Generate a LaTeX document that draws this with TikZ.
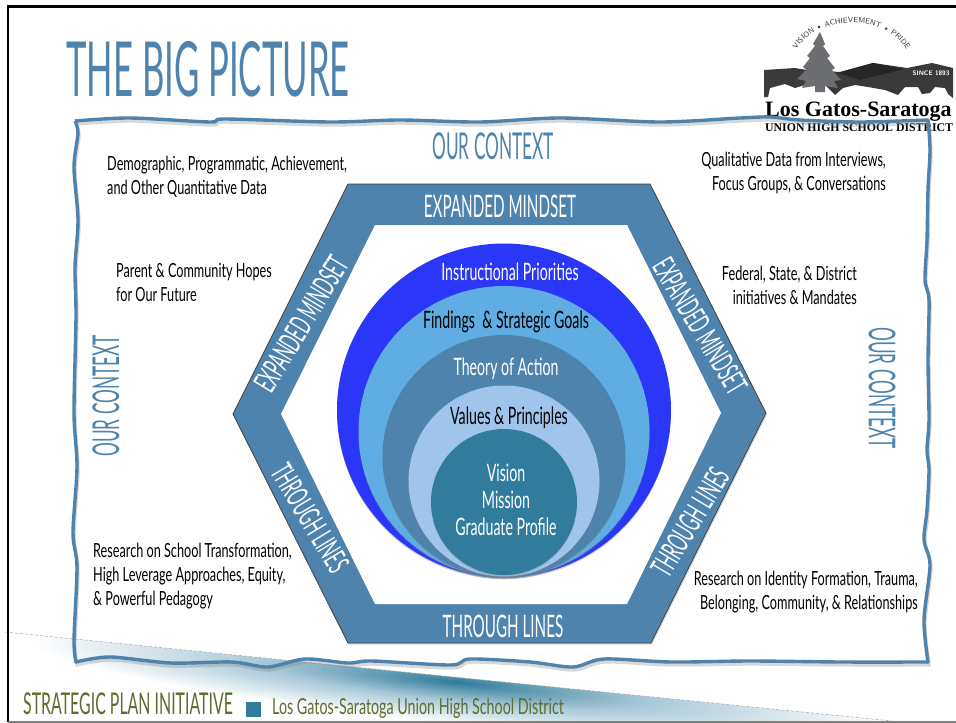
\documentclass[tikz,border=0pt]{standalone}
\usepackage{fontspec}
\usetikzlibrary{shadows,decorations.text}
\newfontfamily\titlefont[FakeStretch=0.456]{Lato}
\newfontfamily\contextfont[FakeStretch=0.465]{Lato}
\newfontfamily\bandfont[FakeStretch=0.49]{Lato}
\newfontfamily\bodyfont[FakeStretch=0.65]{Lato}
\newfontfamily\ringfont[FakeStretch=0.59]{Lato}
\newfontfamily\footfont[FakeStretch=0.53]{Lato}
\newfontfamily\logofont{Liberation Serif}
\definecolor{steelband}{HTML}{4E83AD}
\definecolor{ringblue}{HTML}{2A36F8}
\definecolor{ringsky}{HTML}{5FADE3}
\definecolor{ringpale}{HTML}{A0C5EC}
\definecolor{ringteal}{HTML}{317C9C}
\definecolor{footolive}{HTML}{5F6B2F}
\definecolor{logodark}{HTML}{3A3A3C}
\definecolor{logotree}{HTML}{6D6E71}
\definecolor{logosky}{HTML}{7CCBF0}
\definecolor{glowmid}{HTML}{A6C8D6}
\pgfdeclareradialshading{wedgeglow}{\pgfpoint{0bp}{0bp}}{color(0bp)=(ringteal); color(11bp)=(glowmid); color(25bp)=(white); color(50bp)=(white)}
\newcommand{\framecurve}{
  plot[smooth] coordinates {(75,121) (130,118) (210,122) (225,119) (330,122) (400,120) (480,122) (560,118) (660,122) (740,118) (770,117) (800,120) (860,122) (928,120)}
  -- plot[smooth] coordinates {(928,120) (930,150) (928,190) (927,240) (925,280) (929,300) (928,360) (929,420) (927,450) (929,470) (927,510) (924,540) (930,565) (924,620) (928,662)}
  -- plot[smooth] coordinates {(928,662) (841,662) (750,661) (671,662) (604,659) (573,667) (530,662) (470,659) (451,665) (372,661) (348,663) (305,659) (268,667) (232,662) (171,663) (110,657) (76,662)}
  -- plot[smooth] coordinates {(76,662) (74,640) (77,567) (73,533) (77,467) (74,413) (76,317) (75,267) (78,220) (74,167) (78,133) (75,121)}
}
\begin{document}
\begin{tikzpicture}[x=1pt,y=-1pt]
        \tikzset{title/.style={text=steelband,font=\titlefont\fontsize{76}{76}\selectfont,inner sep=0pt}}
        \tikzset{context/.style={text=steelband,font=\contextfont\fontsize{37}{37}\selectfont,inner sep=0pt}}
        \tikzset{band/.style={text=white,font=\bandfont\fontsize{31}{31}\selectfont,inner sep=0pt}}
        \tikzset{body/.style={text=black,font=\bodyfont\fontsize{19.5}{24}\selectfont,inner sep=0pt}}
        \tikzset{ringtext/.style={font=\ringfont\fontsize{24}{27}\selectfont,inner sep=0pt,align=center}}
        \tikzset{disc/.style={circle,inner sep=0pt,outer sep=0pt,drop shadow={shadow xshift=0pt,shadow yshift=-1.5pt,opacity=.35}}}
        \tikzset{slideedge/.style={line width=2.6pt}}

        \useasboundingbox (0,0) rectangle (956,723);
        \fill[white] (0,0) rectangle (956,723);

        % footer wedge
        \begin{scope}
            \clip (5,632) -- (912,723) -- (5,723) -- cycle;
            \shade[shading=wedgeglow,transform canvas={rotate around={-5.7:(457,682)}}] (27,640) rectangle (887,724);
        \end{scope}
        \draw[gray!70,densely dashed,line width=0.5pt] (5,632) -- (912,723);

        % slide edge
        \draw[slideedge] (956,6.5) -- (8,6.5) -- (8,722);
        \draw[gray,line width=1.2pt] (8,722) -- (956,722);

        % logo
        \begin{scope}
            \clip (796,70) arc[start angle=180,end angle=0,radius=55.5] -- cycle;
            \shade[top color=logosky,bottom color=white,middle color=logosky!70!white] (790,24) rectangle (912,72);
        \end{scope}
        \fill[logodark] (764,70) -- (795,68) -- (807,70) -- (840,72) -- (873,63) -- (907,68) -- (932,63) -- (953,68) -- (953,98) -- (948,94) -- (945,88) -- (935,87) -- (930,93) -- (922,94) -- (918,87) -- (905,87) -- (898,95) -- (885,90) -- (868,87) -- (855,85) -- (843,88) -- (835,95) -- (825,85) -- (818,82) -- (805,85) -- (795,88) -- (785,84) -- (770,88) -- (768,97) -- (764,97) -- cycle;
        \fill[black!85] (837,73) -- (873,63) -- (905,69) -- (860,80) -- cycle;
        \fill[logotree] (820,32) -- (825,44) -- (823,46) -- (830,56) -- (827,58) -- (835,68) -- (832,70) -- (841,80) -- (834,81) -- (838,88) -- (825,86) -- (825,92) -- (815,92) -- (815,86) -- (802,88) -- (806,81) -- (797,79) -- (806,70) -- (803,67) -- (810,58) -- (807,56) -- (815,46) -- (813,44) -- cycle;
        \node[text=white,font=\sffamily\bfseries\fontsize{6.5}{7}\selectfont,inner sep=0pt] (since) at (931,73.5) {SINCE 1893};
        \path[decorate,decoration={text along path,text align=center,text color=logodark,text={|\sffamily\fontsize{7.5}{8}\selectfont|VISION • ACHIEVEMENT • PRIDE}}] (795,52) .. controls (815,13) and (888,13) .. (908,52);
        \node[anchor=base west,font=\logofont\bfseries\fontsize{22}{22}\selectfont,inner sep=0pt] (logoname) at (765,116.5) {Los Gatos-Saratoga};
        \node[anchor=base west,font=\logofont\bfseries\fontsize{11.8}{12}\selectfont,inner sep=0pt] (logodistrict) at (765,131) {UNION HIGH SCHOOL DISTRICT};

        % wavy frame
        \draw[gray,opacity=.3,line width=3.4pt,shift={(1,3)}] \framecurve;
        \draw[steelband,line width=3.4pt,line join=round] \framecurve;

        % title and footer text
        \node[title,anchor=west] (bigpicture) at (66,69.5) {THE BIG PICTURE};
        \node[anchor=west,text=footolive,font=\footfont\fontsize{30}{30}\selectfont,inner sep=0pt] (initiative) at (23,704) {STRATEGIC PLAN INITIATIVE};
        \node[fill=ringteal,minimum size=15pt,inner sep=0pt] (bullet) at (253.5,709) {};
        \node[anchor=west,text=footolive,font=\bodyfont\fontsize{22}{22}\selectfont,inner sep=0pt] (district) at (272,708) {Los Gatos-Saratoga Union High School District};

        % hexagon
        \draw[fill=steelband,draw=black!75,line width=0.8pt,even odd rule,drop shadow={shadow xshift=1pt,shadow yshift=-1.5pt,opacity=.3}]
            (348,184) -- (650,184) -- (766,413) -- (651,643) -- (348,643) -- (233,414) -- cycle;
        \fill[white] (375,225) -- (627,225) -- (721,413) -- (627,604) -- (375,604) -- (281,414) -- cycle;

        % rings
        \foreach \name/\col/\cy/\dia in {priorities/ringblue/410.5/334,goals/ringsky/431.5/291,action/steelband/456.5/243,values/ringpale/481/191,vision/ringteal/502/146} {
            \node[disc,fill=\col,minimum size=\dia pt] (\name) at (504,\cy) {};
        }

        % band labels
        \node[band] (mindsettop) at (500,206.5) {EXPANDED MINDSET};
        \node[band,rotate=59] (mindsetleft) at (301,324) {EXPANDED MINDSET};
        \node[band,rotate=-59] (mindsetright) at (700,326) {EXPANDED MINDSET};
        \node[band] (linesbottom) at (503,626) {THROUGH LINES};
        \node[band,rotate=-59] (linesleft) at (310,518) {THROUGH LINES};
        \node[band,rotate=59] (linesright) at (690,522) {THROUGH LINES};

        % context labels
        \node[context] (contexttop) at (493,146) {OUR CONTEXT};
        \node[context,rotate=90] (contextleft) at (106,396) {OUR CONTEXT};
        \node[context,rotate=-90] (contextright) at (882,388) {OUR CONTEXT};

        % ring labels
        \node[ringtext,text=white] (prioritieslabel) at (510,272) {Instructional Priorities};
        \node[ringtext,text=black] (goalslabel) at (506,322) {Findings \ \& Strategic Goals};
        \node[ringtext,text=white] (actionlabel) at (506,369) {Theory of Action};
        \node[ringtext,text=black] (valueslabel) at (509,418) {Values \& Principles};
        \node[ringtext,text=white] (visionlabel) at (506,500) {Vision\\Mission\\Graduate Profile};

        % notes
        \node[body,anchor=north west,align=left] (quantdata) at (107,156) {Demographic, Programmatic, Achievement,\\and Other Quantitative Data};
        \node[body,anchor=north west,align=left] (hopes) at (116,263) {Parent \& Community Hopes\\for Our Future};
        \node[body,anchor=north west,align=left] (transformation) at (93,543) {Research on School Transformation,\\High Leverage Approaches, Equity,\\\& Powerful Pedagogy};
        \node[body,anchor=north east,align=right] (qualdata) at (886,152) {Qualitative Data from Interviews,\\Focus Groups, \& Conversations};
        \node[body,anchor=north east,align=right] (mandates) at (857,266) {Federal, State, \& District\\initiatives \& Mandates};
        \node[body,anchor=north east,align=right] (identity) at (918,571) {Research on Identity Formation, Trauma,\\Belonging, Community, \& Relationships};
\end{tikzpicture}
\end{document}
